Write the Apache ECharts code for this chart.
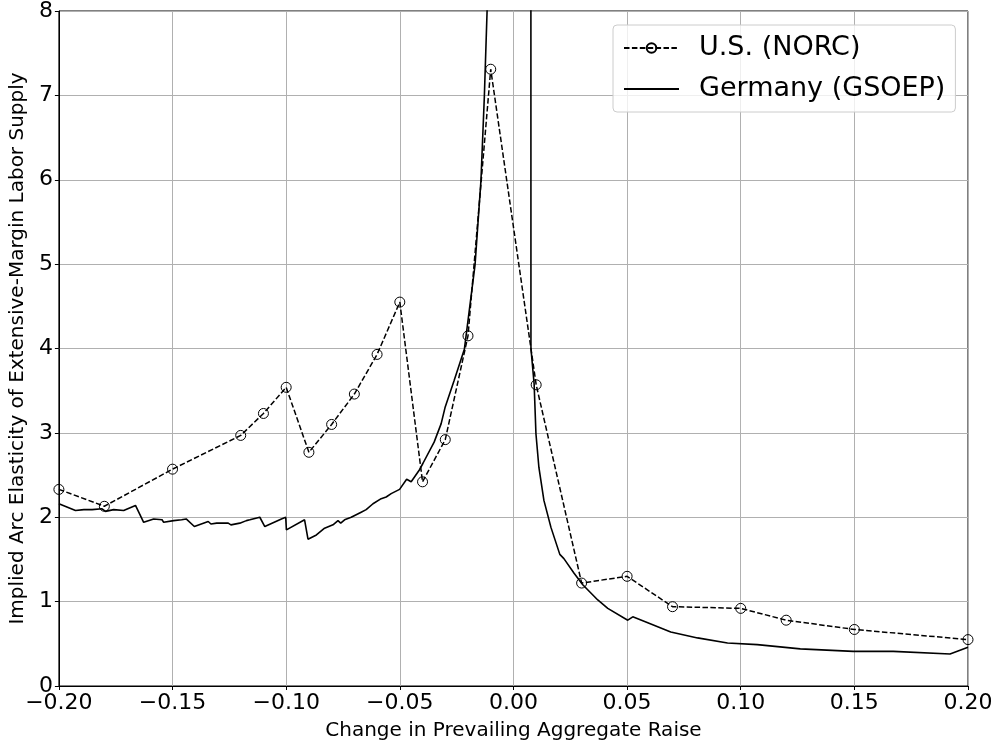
<!DOCTYPE html>
<html>
<head>
<meta charset="utf-8">
<script src="https://cdn.jsdelivr.net/npm/echarts@6/dist/echarts.min.js"></script>
<style>
html,body{margin:0;padding:0;background:#fff;}
#chart{width:997px;height:746px;}
</style>
</head>
<body>
<div id="chart"></div>
<script>
// U.S. (NORC) series
const usX = [-0.20, -0.18, -0.15, -0.12, -0.11, -0.10, -0.09, -0.08, -0.07, -0.06, -0.05, -0.04, -0.03, -0.02, -0.01, 0.01, 0.03, 0.05, 0.07, 0.10, 0.12, 0.15, 0.20];
const usY = [2.33, 2.13, 2.57, 2.97, 3.23, 3.54, 2.77, 3.10, 3.46, 3.93, 4.55, 2.42, 2.92, 4.15, 7.31, 3.57, 1.22, 1.30, 0.94, 0.92, 0.78, 0.67, 0.55];

// Germany (GSOEP) series
const deX = [-0.2000, -0.1927, -0.1890, -0.1854, -0.1810, -0.1795, -0.1759, -0.1715, -0.1663, -0.1627, -0.1583, -0.1546, -0.1539, -0.1495, -0.1460, -0.1440, -0.1404, -0.1343, -0.1331, -0.1306, -0.1299, -0.1255, -0.1243, -0.1204, -0.1175, -0.1160, -0.1116, -0.1094, -0.1021, -0.1002, -0.0999, -0.0919, -0.0911, -0.0904, -0.0867, -0.0831, -0.0794, -0.0772, -0.0760, -0.0743, -0.0714, -0.0670, -0.0648, -0.0618, -0.0582, -0.0560, -0.0538, -0.0501, -0.0470, -0.0450, -0.0414, -0.0398, -0.0349, -0.0318, -0.0301, -0.0261, -0.0216, -0.0169, -0.0143, -0.0128, -0.0116, -0.0105, 0.0075, 0.0077, 0.0091, 0.0099, 0.0112, 0.0134, 0.0165, 0.0204, 0.0222, 0.0266, 0.0305, 0.0371, 0.0415, 0.0503, 0.0525, 0.0591, 0.0692, 0.0810, 0.0942, 0.1073, 0.1262, 0.1495, 0.1671, 0.1921, 0.2000];
const deY = [2.16, 2.08, 2.09, 2.09, 2.10, 2.07, 2.09, 2.08, 2.14, 1.94, 1.98, 1.97, 1.94, 1.96, 1.97, 1.98, 1.89, 1.95, 1.92, 1.93, 1.91, 1.93, 1.91, 1.93, 1.96, 1.97, 2.00, 1.89, 1.98, 2.00, 1.85, 1.97, 1.98, 1.74, 1.79, 1.87, 1.91, 1.96, 1.93, 1.97, 2.00, 2.06, 2.09, 2.16, 2.22, 2.24, 2.28, 2.33, 2.45, 2.42, 2.56, 2.64, 2.89, 3.11, 3.30, 3.62, 3.99, 4.99, 5.99, 6.99, 8.00, 10.0, 40.0, 4.00, 3.58, 2.99, 2.59, 2.20, 1.88, 1.56, 1.51, 1.34, 1.20, 1.02, 0.92, 0.78, 0.82, 0.75, 0.64, 0.57, 0.51, 0.49, 0.44, 0.41, 0.41, 0.38, 0.46];

const seriesNames = ['U.S. (NORC)', 'Germany (GSOEP)'];
const xAxisName = 'Change in Prevailing Aggregate Raise';
const yAxisName = 'Implied Arc Elasticity of Extensive-Margin Labor Supply';

const FONT = 'DejaVu Sans';
const chart = echarts.init(document.getElementById('chart'), null, {renderer: 'canvas'});
const fmtX = v => (v < -1e-9 ? '\u2212' : '') + Math.abs(v).toFixed(2);

chart.setOption({
  animation: false,
  backgroundColor: '#fff',
  textStyle: {fontFamily: FONT},
  grid: {left: 57, right: 29, top: 10, bottom: 60, show: true, borderColor: '#000', borderWidth: 1, containLabel: false},
  legend: {
    orient: 'vertical',
    left: 613, top: 25,
    padding: [8, 10, 8, 10],
    backgroundColor: 'rgba(255,255,255,0.8)',
    borderColor: '#cccccc', borderWidth: 1, borderRadius: 4,
    itemWidth: 55, itemHeight: 12, itemGap: 11,
    textStyle: {fontFamily: FONT, fontSize: 27, color: '#000', padding: [0, 0, 0, 15], lineHeight: 30},
    data: [
      {name: seriesNames[0]},
      {name: seriesNames[1], itemStyle: {opacity: 0}}
    ]
  },
  xAxis: {
    type: 'value', min: -0.2, max: 0.2, interval: 0.05,
    name: xAxisName, nameLocation: 'middle', nameGap: 35,
    nameTextStyle: {fontFamily: FONT, fontSize: 20, color: '#000'},
    axisLine: {show: true, onZero: false, lineStyle: {color: '#000', width: 1}},
    axisTick: {show: true, length: 4, lineStyle: {color: '#000'}},
    axisLabel: {fontFamily: FONT, fontSize: 22, color: '#000', margin: 6, formatter: fmtX},
    splitLine: {show: true, lineStyle: {color: '#b0b0b0', width: 1}}
  },
  yAxis: {
    type: 'value', min: 0, max: 8, interval: 1,
    name: yAxisName, nameLocation: 'middle', nameGap: 26,
    nameTextStyle: {fontFamily: FONT, fontSize: 20, color: '#000'},
    axisLine: {show: true, onZero: false, lineStyle: {color: '#000', width: 1}},
    axisTick: {show: true, length: 4, lineStyle: {color: '#000'}},
    axisLabel: {fontFamily: FONT, fontSize: 22, color: '#000', margin: 6},
    splitLine: {show: true, lineStyle: {color: '#b0b0b0', width: 1}}
  },
  series: [
    {
      name: seriesNames[0], type: 'line', clip: true,
      data: usX.map((x, i) => [x, usY[i]]),
      symbol: 'circle', symbolSize: 10, showAllSymbol: true,
      lineStyle: {color: '#000', width: 1.5, type: [5.5, 2.4]},
      itemStyle: {color: 'rgba(0,0,0,0)', borderColor: '#000', borderWidth: 1},
      z: 3
    },
    {
      name: seriesNames[1], type: 'line', clip: true,
      data: deX.map((x, i) => [x, deY[i]]),
      symbol: 'none', showSymbol: false,
      lineStyle: {color: '#000', width: 1.6},
      itemStyle: {color: '#000'},
      z: 2
    }
  ]
});
</script>
</body>
</html>
